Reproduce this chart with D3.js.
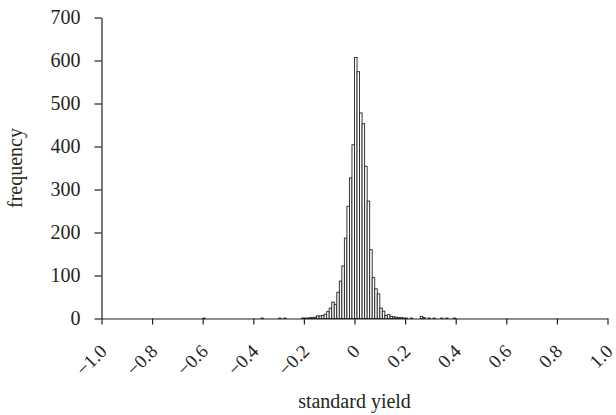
<!DOCTYPE html>
<html>
<head>
<meta charset="utf-8">
<script src="https://cdn.jsdelivr.net/npm/d3@7"></script>
<style>
  html, body { margin: 0; padding: 0; background: #fff; }
  svg { display: block; }
  text { font-family: "Liberation Serif", "Times New Roman", serif; fill: #231f20; }
</style>
</head>
<body>
<svg id="chart" width="616" height="415"></svg>
<script>
// Histogram bins (lower edge of each non-empty bin, width 0.01) and their counts
const binWidth = 0.01;
const binStart = [-0.60, -0.37, -0.30, -0.28, -0.21, -0.20, -0.19, -0.18, -0.17, -0.16,
  -0.15, -0.14, -0.13, -0.12, -0.11, -0.10, -0.09, -0.08, -0.07, -0.06,
  -0.05, -0.04, -0.03, -0.02, -0.01, 0.00, 0.01, 0.02, 0.03, 0.04,
  0.05, 0.06, 0.07, 0.08, 0.09, 0.10, 0.11, 0.12, 0.13, 0.14,
  0.15, 0.16, 0.17, 0.18, 0.19, 0.20, 0.22, 0.26, 0.27, 0.29,
  0.31, 0.34, 0.36, 0.39];
const counts = [1, 1, 1, 1, 1, 1, 1, 2, 2, 3,
  6, 6, 7, 10, 16, 24, 38, 33, 61, 87,
  122, 187, 261, 327, 404, 607, 574, 478, 453, 354,
  273, 160, 95, 69, 57, 24, 17, 7, 9, 5,
  4, 3, 2, 2, 1, 1, 1, 5, 2, 1,
  1, 1, 1, 1];

const xTicks = [-1.0, -0.8, -0.6, -0.4, -0.2, 0, 0.2, 0.4, 0.6, 0.8, 1.0];
const xTickLabels = ["\u22121.0", "\u22120.8", "\u22120.6", "\u22120.4", "\u22120.2", "0", "0.2", "0.4", "0.6", "0.8", "1.0"];
const yTicks = [0, 100, 200, 300, 400, 500, 600, 700];
const xTitle = "standard yield";
const yTitle = "frequency";

const svg = d3.select("#chart");
const ink = "#231f20";

const x = d3.scaleLinear().domain([-1, 1]).range([101.5, 607.5]);
const y = d3.scaleLinear().domain([0, 700]).range([318.5, 17.5]);

const bins = binStart.map((s, i) => ({ s, c: counts[i] }));

// bars
svg.append("g")
  .selectAll("rect")
  .data(bins)
  .join("rect")
  .attr("x", d => x(d.s))
  .attr("width", d => x(d.s + binWidth) - x(d.s))
  .attr("y", d => y(d.c))
  .attr("height", d => y(0) - y(d.c))
  .attr("fill", "#fff")
  .attr("stroke", ink)
  .attr("stroke-width", 0.9);

// y axis
const yAxis = svg.append("g")
  .attr("transform", `translate(${x(-1)},0)`)
  .call(d3.axisLeft(y).tickValues(yTicks).tickSize(7).tickSizeOuter(0).tickPadding(14).tickFormat(d3.format("d")));

// x axis
const xAxis = svg.append("g")
  .attr("transform", `translate(0,${y(0)})`)
  .call(d3.axisBottom(x).tickValues(xTicks).tickSize(6).tickSizeOuter(0)
    .tickFormat((d, i) => xTickLabels[i]));

xAxis.selectAll(".tick text")
  .attr("x", 0).attr("y", 0).attr("dy", 0)
  .attr("text-anchor", "end")
  .attr("transform", "translate(6,34) rotate(-45)")
  .style("font-size", "19px");

[xAxis, yAxis].forEach(g => {
  g.select(".domain").attr("stroke", ink).attr("stroke-width", 1.2);
  g.selectAll(".tick line").attr("stroke", ink).attr("stroke-width", 1.2);
  g.selectAll(".tick text").attr("fill", ink).style("font-family", "'Liberation Serif', serif");
});
yAxis.selectAll(".tick text").style("font-size", "20px");

// titles
svg.append("text")
  .attr("x", x(0)).attr("y", 408)
  .attr("text-anchor", "middle")
  .style("font-size", "20px")
  .text(xTitle);

svg.append("text")
  .attr("transform", `translate(22,${(y(0) + y(700)) / 2}) rotate(-90)`)
  .attr("text-anchor", "middle")
  .style("font-size", "20px")
  .text(yTitle);
</script>
</body>
</html>
